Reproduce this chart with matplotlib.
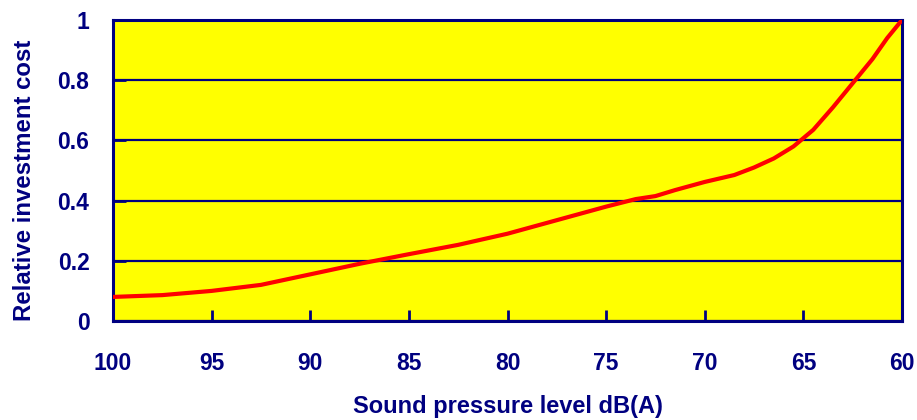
import matplotlib
matplotlib.use("Agg")
import matplotlib.pyplot as plt

sound_db = [100, 97.5, 95, 92.5, 90, 87.5, 85, 82.5, 80, 77.5, 75, 73.5, 72.5,
            71.5, 70, 68.5, 67.5, 66.5, 65.5, 64.5, 63.5, 62.5, 61.5, 60.75, 60]
rel_cost = [0.08, 0.086, 0.10, 0.12, 0.155, 0.19, 0.222, 0.253, 0.29, 0.335, 0.38,
            0.405, 0.415, 0.435, 0.462, 0.485, 0.51, 0.54, 0.58, 0.635, 0.71,
            0.79, 0.87, 0.94, 1.0]
x_ticks = [100, 95, 90, 85, 80, 75, 70, 65, 60]
y_ticks = [0, 0.2, 0.4, 0.6, 0.8, 1]
y_tick_labels = ["0", "0.2", "0.4", "0.6", "0.8", "1"]

navy = "#000080"
plt.rcParams['font.family'] = ['Liberation Sans', 'DejaVu Sans']

fig = plt.figure(figsize=(9.17, 4.2), dpi=100)
ax = fig.add_axes([113/917, 99/420, 789/917, 301/420])
ax.set_facecolor("#FFFF00")
ax.plot(sound_db, rel_cost, color="#FF0000", lw=3, zorder=3, solid_capstyle="round")
ax.set_xlim(100, 60)
ax.set_ylim(0, 1)
ax.set_xticks(x_ticks)
ax.set_xticklabels([str(v) for v in x_ticks])
ax.set_yticks(y_ticks)
ax.set_yticklabels(y_tick_labels)
ax.yaxis.grid(True, color=navy, lw=1.6)
ax.set_axisbelow(False)
for s in ax.spines.values():
    s.set_color(navy)
    s.set_linewidth(2.2)
ax.tick_params(axis="x", direction="in", length=8, width=2, color=navy,
               labelcolor=navy, labelsize=16.5, pad=22)
ax.tick_params(axis="y", direction="in", length=9, width=2, color=navy,
               labelcolor=navy, labelsize=16.5, pad=17)
for lab in ax.get_xticklabels() + ax.get_yticklabels():
    lab.set_fontweight("bold")
ax.set_xlabel("Sound pressure level dB(A)", color=navy, fontsize=17,
              fontweight="bold")
ax.set_ylabel("Relative investment cost", color=navy, fontsize=17.3,
              fontweight="bold")
ax.xaxis.set_label_coords(0.5, -(407 - 321) / 301, transform=ax.transAxes)
ax.xaxis.label.set_va("center")
ax.yaxis.set_label_coords(-(113 - 25) / 789, (321 - 180) / 301, transform=ax.transAxes)
ax.yaxis.label.set_va("center")
fig.savefig("out.png", dpi=100)
